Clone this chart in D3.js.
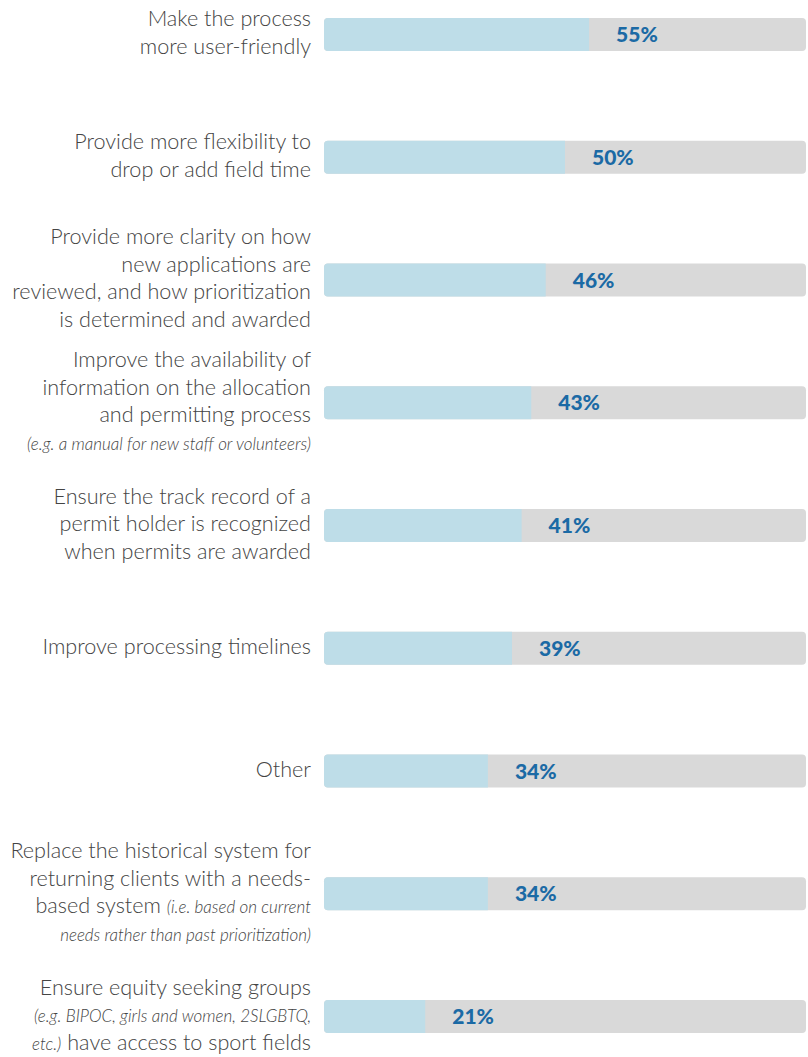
<!DOCTYPE html>
<html>
<head>
<meta charset="utf-8">
<script src="https://cdn.jsdelivr.net/npm/d3@7"></script>
<style>
  html, body { margin: 0; padding: 0; background: #ffffff; }
  svg { display: block; }
</style>
</head>
<body>
<svg id="chart" width="808" height="1057"></svg>
<script>
// ---- Data ----
const categories = [
  "Make the process more user-friendly",
  "Provide more flexibility to drop or add field time",
  "Provide more clarity on how new applications are reviewed, and how prioritization is determined and awarded",
  "Improve the availability of information on the allocation and permitting process (e.g. a manual for new staff or volunteers)",
  "Ensure the track record of a permit holder is recognized when permits are awarded",
  "Improve processing timelines",
  "Other",
  "Replace the historical system for returning clients with a needs-based system (i.e. based on current needs rather than past prioritization)",
  "Ensure equity seeking groups (e.g. BIPOC, girls and women, 2SLGBTQ, etc.) have access to sport fields"
];
const values = [55, 50, 46, 43, 41, 39, 34, 34, 21];
const valueLabels = ["55%", "50%", "46%", "43%", "41%", "39%", "34%", "34%", "21%"];
// Label lines: each line is a list of [text, italic] segments
const labelLines = [
  [[["Make the process", false]], [["more user-friendly", false]]],
  [[["Provide more flexibility to", false]], [["drop or add field time", false]]],
  [[["Provide more clarity on how", false]], [["new applications are", false]], [["reviewed, and how prioritization", false]], [["is determined and awarded", false]]],
  [[["Improve the availability of", false]], [["information on the allocation", false]], [["and permitting process", false]], [["(e.g. a manual for new staff or volunteers)", true]]],
  [[["Ensure the track record of a", false]], [["permit holder is recognized", false]], [["when permits are awarded", false]]],
  [[["Improve processing timelines", false]]],
  [[["Other", false]]],
  [[["Replace the historical system for", false]], [["returning clients with a needs-", false]], [["based system ", false], ["(i.e. based on current", true]], [["needs rather than past prioritization)", true]]],
  [[["Ensure equity seeking groups", false]], [["(e.g. BIPOC, girls and women, 2SLGBTQ,", true]], [["etc.)", true], [" have access to sport fields", false]]]
];
const domainMax = 100;

// ---- Layout ----
const svg = d3.select("#chart");
const barX0 = 324, barX1 = 806, barH = 33;
const labelX = 311;
const lineH = 27.5;

const x = d3.scaleLinear().domain([0, domainMax]).range([barX0, barX1]);
const y = d3.scalePoint().domain(categories).range([34.5, 1016.5]);

const rows = svg.selectAll("g.row")
  .data(categories.map((c, i) => ({ c, v: values[i], lab: valueLabels[i], lines: labelLines[i] })))
  .join("g").attr("class", "row");

// background bar
rows.append("rect")
  .attr("x", x(0))
  .attr("y", d => y(d.c) - barH / 2)
  .attr("width", x(domainMax) - x(0))
  .attr("height", barH)
  .attr("rx", 4)
  .attr("fill", "#d9d9d9");

// value bar (rounded left, square right)
rows.append("path")
  .attr("fill", "#bedde8")
  .attr("d", d => {
    const x0 = x(0), x1 = x(d.v), y0 = y(d.c) - barH / 2, y1 = y0 + barH, r = 4;
    return `M${x1},${y0}H${x0 + r}Q${x0},${y0} ${x0},${y0 + r}V${y1 - r}Q${x0},${y1} ${x0 + r},${y1}H${x1}Z`;
  });

// value labels
rows.append("text")
  .attr("x", d => x(d.v) + 27)
  .attr("y", d => y(d.c))
  .attr("dy", "0.36em")
  .attr("font-family", "Lato, 'Open Sans', sans-serif")
  .attr("font-weight", 900)
  .attr("font-size", 21)
  .attr("fill", "#1b6aa5")
  .text(d => d.lab);

// category labels
rows.each(function(d) {
  const g = d3.select(this);
  const n = d.lines.length;
  const cy = y(d.c);
  d.lines.forEach((line, i) => {
    const t = g.append("text")
      .attr("x", labelX)
      .attr("y", cy + (i - (n - 1) / 2) * lineH)
      .attr("dy", "0.35em")
      .attr("text-anchor", "end")
      .attr("font-family", "Lato, 'Open Sans', sans-serif")
      .attr("fill", "#444444");
    line.forEach(([txt, it]) => {
      t.append("tspan")
        .attr("font-style", it ? "italic" : "normal")
        .attr("font-weight", 300)
        .attr("font-size", it ? 17 : 21.6)
        .text(txt);
    });
  });
});
</script>
</body>
</html>
